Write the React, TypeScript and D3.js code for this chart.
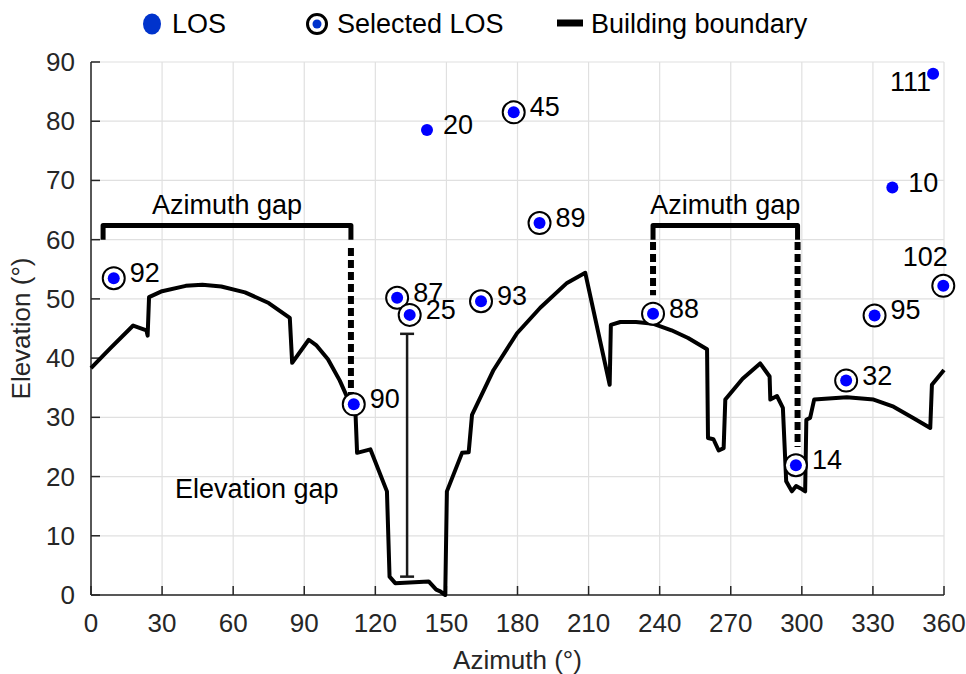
import React from "react";
import * as d3 from "d3";

const W = 966;
const H = 674;

// Building boundary (azimuth °, elevation °)
const boundaryAz = [0, 8, 17.8, 23.4, 23.9, 24.5, 30, 40, 47, 55, 65, 75, 83.9, 84.9, 91.9, 95, 100, 105, 108, 111.6, 112.3, 117.9, 124.9, 126, 128.4, 142.5, 145.7, 147.4, 149.5, 150.2, 156.6, 159.4, 160.8, 169.9, 179.8, 189.6, 200.9, 208.6, 218.9, 219.4, 223.4, 230, 237.4, 245, 252, 260, 260.4, 262.7, 264.9, 267, 267.7, 275, 282.4, 286.4, 286.7, 289.5, 292, 293.4, 295.8, 297.6, 299.5, 301.4, 301.9, 303.5, 305.2, 319, 330.3, 338.7, 347, 354.2, 354.9, 360];
const boundaryEl = [38.3, 41.6, 45.5, 44.7, 43.8, 50.3, 51.3, 52.2, 52.4, 52.1, 51.1, 49.3, 46.8, 39.2, 43.1, 42.2, 39.8, 36.2, 33.5, 31.0, 24.0, 24.6, 17.5, 3.1, 2.0, 2.3, 0.9, 0.6, 0, 17.5, 24.0, 24.1, 30.4, 38.0, 44.2, 48.5, 52.7, 54.4, 35.5, 45.6, 46.1, 46.1, 45.8, 44.7, 43.4, 41.5, 26.5, 26.3, 24.4, 24.8, 33.0, 36.5, 39.1, 36.9, 33.0, 33.6, 31.6, 19.2, 17.5, 18.4, 18.0, 17.5, 29.6, 29.9, 33.0, 33.4, 33.0, 31.8, 29.9, 28.2, 35.5, 38.0];

// LOS satellites
const losIds = ["92", "90", "87", "25", "93", "20", "45", "89", "88", "14", "32", "95", "102", "10", "111"];
const losAz = [9.6, 110.9, 129.2, 134.5, 164.6, 141.8, 178.4, 189.3, 237.2, 297.5, 318.7, 330.7, 359.7, 338.2, 355.4];
const losEl = [53.5, 32.2, 50.2, 47.3, 49.6, 78.5, 81.5, 62.8, 47.5, 21.9, 36.2, 47.2, 52.2, 68.8, 88.0];
const selectedIds = ["92", "90", "87", "25", "93", "45", "89", "88", "14", "32", "95", "102"];

// Axis ticks
const xTicks = [0, 30, 60, 90, 120, 150, 180, 210, 240, 270, 300, 330, 360];
const yTicks = [0, 10, 20, 30, 40, 50, 60, 70, 80, 90];

// Annotations
const azGapStart = [5.1, 237.2];
const azGapEnd = [109.7, 298.2];
const azGapBracketEl = 62.4;
const azGapLegEl = 60;
// dotted drops: [azimuth, top el, bottom el]
const dropAz = [109.7, 237.2, 298.2];
const dropTop = [58.6, 59.6, 59.6];
const dropBottom = [33.8, 50.6, 25.0];
const elGapAz = 133.4;
const elGapTop = 44.1;
const elGapBottom = 3.1;

const FONT = "'Liberation Sans', Arial, Helvetica, sans-serif";

export default function App() {
  const x = d3.scaleLinear().domain([0, 360]).range([91, 944]);
  const y = d3.scaleLinear().domain([0, 90]).range([595, 62]);

  const boundary = boundaryAz.map((a, i) => [a, boundaryEl[i]] as [number, number]);
  const line = d3
    .line<[number, number]>()
    .x((d) => x(d[0]))
    .y((d) => y(d[1]));

  const axisColor = "#262626";
  const gridColor = "#e0e0e0";

  return (
    <svg
      width={W}
      height={H}
      style={{ position: "absolute", left: 0, top: 0, background: "#fff" }}
      fontFamily={FONT}
    >
      <rect x={0} y={0} width={W} height={H} fill="#fff" />
      {/* grid */}
      {xTicks.map((t) => (
        <line key={"gx" + t} x1={x(t)} x2={x(t)} y1={y(0)} y2={y(90)} stroke={gridColor} strokeWidth={1.2} />
      ))}
      {yTicks.map((t) => (
        <line key={"gy" + t} x1={x(0)} x2={x(360)} y1={y(t)} y2={y(t)} stroke={gridColor} strokeWidth={1.2} />
      ))}

      {/* axes */}
      <line x1={x(0)} x2={x(360)} y1={y(0)} y2={y(0)} stroke={axisColor} strokeWidth={1.5} />
      <line x1={x(0)} x2={x(0)} y1={y(0)} y2={y(90)} stroke={axisColor} strokeWidth={1.5} />
      {xTicks.map((t) => (
        <g key={"tx" + t}>
          <line x1={x(t)} x2={x(t)} y1={y(0)} y2={y(0) - 9} stroke={axisColor} strokeWidth={1.5} />
          <text x={x(t)} y={y(0) + 37} textAnchor="middle" fontSize={26} fill={axisColor}>
            {t}
          </text>
        </g>
      ))}
      {yTicks.map((t) => (
        <g key={"ty" + t}>
          <line x1={x(0)} x2={x(0) + 9} y1={y(t)} y2={y(t)} stroke={axisColor} strokeWidth={1.5} />
          <text x={x(0) - 16} y={y(t) + 9} textAnchor="end" fontSize={26} fill={axisColor}>
            {t}
          </text>
        </g>
      ))}
      <text x={(x(0) + x(360)) / 2} y={669} textAnchor="middle" fontSize={26} fill={axisColor}>
        Azimuth (°)
      </text>
      <text
        transform={`translate(30, ${(y(0) + y(90)) / 2}) rotate(-90)`}
        textAnchor="middle"
        fontSize={26}
        fill={axisColor}
      >
        Elevation (°)
      </text>

      {/* building boundary */}
      <path d={line(boundary) || ""} fill="none" stroke="#000" strokeWidth={4} strokeLinejoin="round" />

      {/* azimuth gap brackets */}
      {azGapStart.map((a0, i) => {
        const a1 = azGapEnd[i];
        return (
          <g key={"br" + i}>
            <path
              d={`M${x(a0)},${y(azGapLegEl)} L${x(a0)},${y(azGapBracketEl)} L${x(a1)},${y(azGapBracketEl)} L${x(a1)},${y(azGapLegEl)}`}
              fill="none"
              stroke="#000"
              strokeWidth={5}
              strokeLinejoin="round"
            />
            <text x={(x(a0) + x(a1)) / 2} y={y(azGapBracketEl) - 11} textAnchor="middle" fontSize={27} fill="#000">
              Azimuth gap
            </text>
          </g>
        );
      })}
      {dropAz.map((a, i) => (
        <line
          key={"dr" + i}
          x1={x(a)}
          x2={x(a)}
          y1={y(dropTop[i])}
          y2={y(dropBottom[i])}
          stroke="#000"
          strokeWidth={6}
          strokeDasharray="8 4"
        />
      ))}

      {/* elevation gap */}
      <g stroke="#1a1a1a" strokeWidth={2.5}>
        <line x1={x(elGapAz)} x2={x(elGapAz)} y1={y(elGapTop)} y2={y(elGapBottom)} />
        <line x1={x(elGapAz) - 7} x2={x(elGapAz) + 7} y1={y(elGapTop)} y2={y(elGapTop)} />
        <line x1={x(elGapAz) - 7} x2={x(elGapAz) + 7} y1={y(elGapBottom)} y2={y(elGapBottom)} />
      </g>
      <text x={175} y={y(16.35)} fontSize={27} fill="#000">
        Elevation gap
      </text>

      {/* LOS markers */}
      {losIds.map((id, i) => {
        const cx = x(losAz[i]);
        const cy = y(losEl[i]);
        const sel = selectedIds.includes(id);
        let tx = cx + 16;
        let ty = cy + 4;
        let anchor: "start" | "middle" | "end" = "start";
        if (id === "111") {
          tx = cx - 2;
          ty = cy + 17;
          anchor = "end";
        } else if (id === "102") {
          tx = cx - 18;
          ty = cy - 20;
          anchor = "middle";
        }
        return (
          <g key={"los" + id}>
            {sel && <circle cx={cx} cy={cy} r={11} fill="#fff" stroke="#000" strokeWidth={2} />}
            <circle cx={cx} cy={cy} r={6} fill="#0000ff" />
            <text x={tx} y={ty} textAnchor={anchor} fontSize={27} fill="#000">
              {id}
            </text>
          </g>
        );
      })}

      {/* legend */}
      <ellipse cx={152} cy={24} rx={9} ry={10.5} fill="#0033cc" />
      <text x={172} y={33} fontSize={27} fill="#000">LOS</text>
      <circle cx={317} cy={24} r={9.5} fill="#fff" stroke="#000" strokeWidth={3} />
      <circle cx={317} cy={24} r={4.5} fill="#0033cc" />
      <text x={337} y={33} fontSize={27} fill="#000">Selected LOS</text>
      <line x1={557} x2={583} y1={23} y2={23} stroke="#000" strokeWidth={7} />
      <text x={591} y={33} fontSize={27} fill="#000">Building boundary</text>
    </svg>
  );
}
